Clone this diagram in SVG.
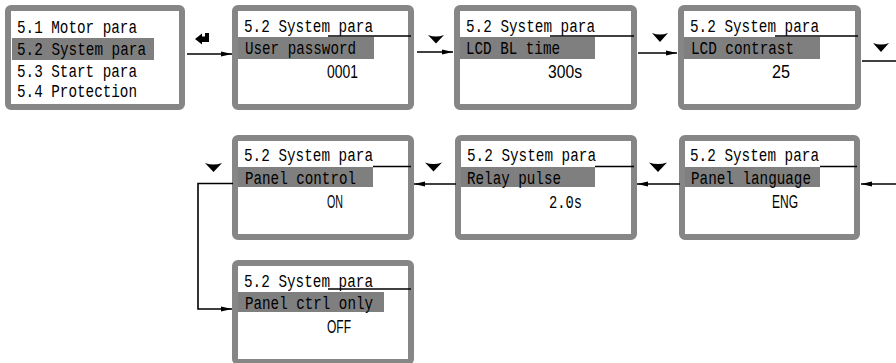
<svg xmlns="http://www.w3.org/2000/svg" width="896" height="363" viewBox="0 0 896 363">
<defs>
<style>
.box{fill:#fff;stroke:#868686;stroke-width:6}
.hl{fill:#7f7f7f}
.hd{stroke:#000;stroke-width:1.5}
.t{font-family:"Liberation Mono","DejaVu Sans Mono",monospace;font-size:18px;fill:#000}
.v{font-family:"Liberation Sans",Arial,sans-serif;font-size:17.5px;fill:#000}
.c{fill:none;stroke:#000;stroke-width:1.6}
.tri{fill:#000}
</style>
<marker id="ah" markerUnits="userSpaceOnUse" markerWidth="12" markerHeight="8" refX="11" refY="3" orient="auto">
<path d="M0,0.5 L11,3 L0,5.5 Z" fill="#000"/>
</marker>
</defs>
<rect width="896" height="363" fill="#fff"/>

<g id="menu">
<rect class="box" x="8" y="8" width="174" height="99" rx="3"/>
<rect class="hl" x="12" y="38" width="142" height="22"/>
<text class="t" x="17" y="33" textLength="120" lengthAdjust="spacingAndGlyphs">5.1 Motor para</text>
<text class="t" x="17" y="55" textLength="129" lengthAdjust="spacingAndGlyphs">5.2 System para</text>
<text class="t" x="17" y="77" textLength="120" lengthAdjust="spacingAndGlyphs">5.3 Start para</text>
<text class="t" x="17" y="97" textLength="120" lengthAdjust="spacingAndGlyphs">5.4 Protection</text>
</g>

<g id="user-password">
<rect class="box" x="235" y="8" width="176" height="99" rx="3"/>
<line class="hd" x1="328" y1="36" x2="411" y2="36"/>
<rect class="hl" x="238" y="37" width="136" height="22"/>
<text class="t" x="244" y="32" textLength="129" lengthAdjust="spacingAndGlyphs">5.2 System para</text>
<text class="t" x="245" y="54" textLength="111" lengthAdjust="spacingAndGlyphs">User password</text>
<text class="v" x="327" y="77.5" textLength="31" lengthAdjust="spacingAndGlyphs">0001</text>
</g>

<g id="lcd-bl-time">
<rect class="box" x="457" y="8" width="177" height="99" rx="3"/>
<line class="hd" x1="550" y1="36" x2="634" y2="36"/>
<rect class="hl" x="460" y="37" width="135" height="22"/>
<text class="t" x="466" y="32" textLength="129" lengthAdjust="spacingAndGlyphs">5.2 System para</text>
<text class="t" x="466" y="54" textLength="94" lengthAdjust="spacingAndGlyphs">LCD BL time</text>
<text class="v" x="548" y="77.5" textLength="34" lengthAdjust="spacingAndGlyphs">300s</text>
</g>

<g id="lcd-contrast">
<rect class="box" x="681" y="8" width="177" height="99" rx="3"/>
<line class="hd" x1="775" y1="36" x2="858" y2="36"/>
<rect class="hl" x="684" y="37" width="136" height="22"/>
<text class="t" x="690" y="32" textLength="129" lengthAdjust="spacingAndGlyphs">5.2 System para</text>
<text class="t" x="691" y="54" textLength="103" lengthAdjust="spacingAndGlyphs">LCD contrast</text>
<text class="v" x="772" y="77.5" textLength="18" lengthAdjust="spacingAndGlyphs">25</text>
</g>

<g id="panel-control">
<rect class="box" x="235" y="138" width="176" height="99" rx="3"/>
<line class="hd" x1="373" y1="166.5" x2="411" y2="166.5"/>
<rect class="hl" x="238" y="167" width="135" height="20"/>
<text class="t" x="244" y="161" textLength="129" lengthAdjust="spacingAndGlyphs">5.2 System para</text>
<text class="t" x="245" y="184" textLength="111" lengthAdjust="spacingAndGlyphs">Panel control</text>
<text class="v" x="327" y="208" textLength="16" lengthAdjust="spacingAndGlyphs">ON</text>
</g>

<g id="relay-pulse">
<rect class="box" x="458" y="138" width="176" height="99" rx="3"/>
<line class="hd" x1="595" y1="166.5" x2="634" y2="166.5"/>
<rect class="hl" x="461" y="167" width="134" height="20"/>
<text class="t" x="467" y="161" textLength="129" lengthAdjust="spacingAndGlyphs">5.2 System para</text>
<text class="t" x="467" y="184" textLength="94" lengthAdjust="spacingAndGlyphs">Relay pulse</text>
<text class="t" x="549" y="208" textLength="33" lengthAdjust="spacingAndGlyphs">2.0s</text>
</g>

<g id="panel-language">
<rect class="box" x="682" y="138" width="175" height="99" rx="3"/>
<line class="hd" x1="820" y1="166.5" x2="857" y2="166.5"/>
<rect class="hl" x="685" y="167" width="135" height="20"/>
<text class="t" x="690" y="161" textLength="129" lengthAdjust="spacingAndGlyphs">5.2 System para</text>
<text class="t" x="691" y="184" textLength="120" lengthAdjust="spacingAndGlyphs">Panel language</text>
<text class="v" x="772" y="208" textLength="26" lengthAdjust="spacingAndGlyphs">ENG</text>
</g>

<g id="panel-ctrl-only">
<rect class="box" x="235" y="263" width="176" height="99" rx="3"/>
<line class="hd" x1="328" y1="289" x2="411" y2="289"/>
<rect class="hl" x="238" y="292" width="146" height="20"/>
<text class="t" x="244" y="287" textLength="129" lengthAdjust="spacingAndGlyphs">5.2 System para</text>
<text class="t" x="245" y="309" textLength="128" lengthAdjust="spacingAndGlyphs">Panel ctrl only</text>
<text class="v" x="327" y="333" textLength="24" lengthAdjust="spacingAndGlyphs">OFF</text>
</g>

<g id="connectors">
<line class="c" x1="187" y1="54" x2="232" y2="54" marker-end="url(#ah)"/>
<path class="tri" d="M209,33 L209,42 L202,42 L202,44.5 L195,39 L202,33.5 L202,36.5 L205,36.5 L205,33 Z"/>
<line class="c" x1="417" y1="52" x2="453" y2="52" marker-end="url(#ah)"/>
<path class="tri" d="M428,35 Q436,38 444,35 L436,43.5 Z"/>
<line class="c" x1="638" y1="53" x2="677" y2="53" marker-end="url(#ah)"/>
<path class="tri" d="M652,33 Q660,36 668,33 L660,42 Z"/>
<line class="c" x1="862" y1="61" x2="896" y2="61"/>
<path class="tri" d="M873,43 Q881,46 889,43 L881,52 Z"/>
<line class="c" x1="896" y1="184" x2="861" y2="184" marker-end="url(#ah)"/>
<line class="c" x1="680" y1="184" x2="637" y2="184" marker-end="url(#ah)"/>
<path class="tri" d="M649,162.5 Q658,165.5 667,162.5 L658,172 Z"/>
<line class="c" x1="456" y1="184" x2="414" y2="184" marker-end="url(#ah)"/>
<path class="tri" d="M425,162.5 Q433.5,165.5 442,162.5 L433.5,171.5 Z"/>
<polyline class="c" points="233,183.5 198,183.5 198,309 232,309" marker-end="url(#ah)"/>
<path class="tri" d="M205,163 Q213.5,166 222,163 L213.5,172 Z"/>
</g>
</svg>
